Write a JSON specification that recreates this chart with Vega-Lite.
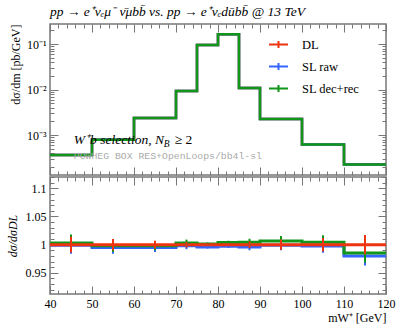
{
  "$schema": "https://vega.github.io/schema/vega-lite/v6.json",
  "background": "white",
  "padding": {"left": 5, "top": 4, "right": 5, "bottom": 5},
  "spacing": -2,
  "config": {
    "view": {"stroke": "#777", "strokeWidth": 1.5},
    "axis": {"domain": false, "grid": false, "tickColor": "#777", "tickWidth": 1, "labelFont": "Liberation Serif", "labelFontSize": 12, "labelColor": "#000", "titleFont": "Liberation Serif", "titleFontWeight": "normal", "titleFontSize": 12, "titleColor": "#000", "labelPadding": 12, "labelFlush": false}
  },
  "datasets": {
    "top": [
      {"s": "DL", "x": 40, "v": 0.000366}, {"s": "DL", "x": 50, "v": 0.00079}, {"s": "DL", "x": 60, "v": 0.00238}, {"s": "DL", "x": 70, "v": 0.0093}, {"s": "DL", "x": 75, "v": 0.096}, {"s": "DL", "x": 80, "v": 0.164}, {"s": "DL", "x": 85, "v": 0.0109}, {"s": "DL", "x": 90, "v": 0.00226}, {"s": "DL", "x": 100, "v": 0.00062}, {"s": "DL", "x": 110, "v": 0.00023}, {"s": "DL", "x": 120, "v": 0.00023},
      {"s": "SL raw", "x": 40, "v": 0.000366}, {"s": "SL raw", "x": 50, "v": 0.00079}, {"s": "SL raw", "x": 60, "v": 0.00238}, {"s": "SL raw", "x": 70, "v": 0.0093}, {"s": "SL raw", "x": 75, "v": 0.096}, {"s": "SL raw", "x": 80, "v": 0.164}, {"s": "SL raw", "x": 85, "v": 0.0109}, {"s": "SL raw", "x": 90, "v": 0.00226}, {"s": "SL raw", "x": 100, "v": 0.00062}, {"s": "SL raw", "x": 110, "v": 0.000226}, {"s": "SL raw", "x": 120, "v": 0.000226},
      {"s": "SL dec+rec", "x": 40, "v": 0.000367}, {"s": "SL dec+rec", "x": 50, "v": 0.00079}, {"s": "SL dec+rec", "x": 60, "v": 0.00238}, {"s": "SL dec+rec", "x": 70, "v": 0.0093}, {"s": "SL dec+rec", "x": 75, "v": 0.096}, {"s": "SL dec+rec", "x": 80, "v": 0.164}, {"s": "SL dec+rec", "x": 85, "v": 0.0109}, {"s": "SL dec+rec", "x": 90, "v": 0.00227}, {"s": "SL dec+rec", "x": 100, "v": 0.00062}, {"s": "SL dec+rec", "x": 110, "v": 0.000227}, {"s": "SL dec+rec", "x": 120, "v": 0.000227}
    ],
    "ratio": [
      {"s": "SL raw", "x": 40, "m": 45, "r": 0.999, "lo": 0.984, "hi": 1.014},
      {"s": "SL raw", "x": 50, "m": 55, "r": 0.995, "lo": 0.984, "hi": 1.006},
      {"s": "SL raw", "x": 60, "m": 65, "r": 0.995, "lo": 0.987, "hi": 1.003},
      {"s": "SL raw", "x": 70, "m": 72.5, "r": 0.998, "lo": 0.992, "hi": 1.004},
      {"s": "SL raw", "x": 75, "m": 77.5, "r": 0.996, "lo": 0.993, "hi": 0.999},
      {"s": "SL raw", "x": 80, "m": 82.5, "r": 0.997, "lo": 0.994, "hi": 1.0},
      {"s": "SL raw", "x": 85, "m": 87.5, "r": 0.996, "lo": 0.99, "hi": 1.002},
      {"s": "SL raw", "x": 90, "m": 95, "r": 0.999, "lo": 0.99, "hi": 1.008},
      {"s": "SL raw", "x": 100, "m": 105, "r": 0.9975, "lo": 0.9855, "hi": 1.0095},
      {"s": "SL raw", "x": 110, "m": 115, "r": 0.98, "lo": 0.963, "hi": 0.997},
      {"s": "SL raw", "x": 120, "r": 0.98},
      {"s": "SL dec+rec", "x": 40, "m": 45, "r": 1.003, "lo": 0.988, "hi": 1.018},
      {"s": "SL dec+rec", "x": 50, "m": 55, "r": 0.998, "lo": 0.987, "hi": 1.009},
      {"s": "SL dec+rec", "x": 60, "m": 65, "r": 0.998, "lo": 0.99, "hi": 1.006},
      {"s": "SL dec+rec", "x": 70, "m": 72.5, "r": 1.003, "lo": 0.997, "hi": 1.009},
      {"s": "SL dec+rec", "x": 75, "m": 77.5, "r": 1.001, "lo": 0.998, "hi": 1.004},
      {"s": "SL dec+rec", "x": 80, "m": 82.5, "r": 1.004, "lo": 1.001, "hi": 1.007},
      {"s": "SL dec+rec", "x": 85, "m": 87.5, "r": 1.0045, "lo": 0.9985, "hi": 1.0105},
      {"s": "SL dec+rec", "x": 90, "m": 95, "r": 1.0065, "lo": 0.9975, "hi": 1.0155},
      {"s": "SL dec+rec", "x": 100, "m": 105, "r": 1.0045, "lo": 0.9925, "hi": 1.0165},
      {"s": "SL dec+rec", "x": 110, "m": 115, "r": 0.985, "lo": 0.968, "hi": 1.002},
      {"s": "SL dec+rec", "x": 120, "r": 0.985},
      {"s": "DL", "x": 40, "m": 45, "r": 1, "lo": 0.986, "hi": 1.014},
      {"s": "DL", "x": 50, "m": 55, "r": 1, "lo": 0.99, "hi": 1.01},
      {"s": "DL", "x": 60, "m": 65, "r": 1, "lo": 0.993, "hi": 1.007},
      {"s": "DL", "x": 70, "m": 72.5, "r": 1, "lo": 0.995, "hi": 1.005},
      {"s": "DL", "x": 75, "m": 77.5, "r": 1, "lo": 0.997, "hi": 1.003},
      {"s": "DL", "x": 80, "m": 82.5, "r": 1, "lo": 0.997, "hi": 1.003},
      {"s": "DL", "x": 85, "m": 87.5, "r": 1, "lo": 0.994, "hi": 1.006},
      {"s": "DL", "x": 90, "m": 95, "r": 1, "lo": 0.991, "hi": 1.009},
      {"s": "DL", "x": 100, "m": 105, "r": 1, "lo": 0.988, "hi": 1.012},
      {"s": "DL", "x": 110, "m": 115, "r": 1, "lo": 0.983, "hi": 1.017},
      {"s": "DL", "x": 120, "r": 1}
    ],
    "notes": [
      {"k": "sel", "t": "W⁺b selection, N", "x": 45.67, "y": 0.00065},
      {"k": "sub", "t": "B", "x": 45.67, "y": 0.00065},
      {"k": "ge", "t": "≥ 2", "x": 45.67, "y": 0.00065},
      {"k": "gen", "t": "POWHEG BOX RES+OpenLoops/bb4l-sl", "x": 45.67, "y": 0.000295}
    ]
  },
  "resolve": {"scale": {"color": "independent"}, "legend": {"color": "independent"}},
  "vconcat": [
    {
      "width": 336,
      "height": 151,
      "title": {"text": "pp → e⁺νₑμ⁻ ν̄μbb̄ vs. pp → e⁺νₑdūbb̄ @ 13 TeV", "anchor": "start", "frame": "group", "font": "Liberation Serif", "fontStyle": "italic", "fontWeight": "normal", "fontSize": 13.5, "color": "#000", "offset": 5},
      "resolve": {"axis": {"x": "independent", "y": "independent"}},
      "layer": [
        {
          "data": {"name": "top"},
          "mark": {"type": "line", "interpolate": "step-after", "strokeWidth": 2.5},
          "encoding": {
            "x": {"field": "x", "type": "quantitative", "scale": {"domain": [40, 120], "nice": false, "zero": false},
              "axis": {"orient": "bottom", "title": null, "minExtent": 0, "maxExtent": 0, "values": [40,42,44,46,48,50,52,54,56,58,60,62,64,66,68,70,72,74,76,78,80,82,84,86,88,90,92,94,96,98,100,102,104,106,108,110,112,114,116,118,120], "labels": false, "tickSize": {"condition": {"test": "datum.value % 10 === 0", "value": -8}, "value": -4}}},
            "y": {"field": "v", "type": "quantitative", "scale": {"type": "log", "domain": [0.000133, 0.277], "nice": false},
              "axis": {"orient": "left", "title": "dσ/dm [pb/GeV]", "titleAnchor": "end", "titlePadding": 4,
                "values": [0.0002,0.0003,0.0004,0.0005,0.0006,0.0007,0.0008,0.0009,0.001,0.002,0.003,0.004,0.005,0.006,0.007,0.008,0.009,0.01,0.02,0.03,0.04,0.05,0.06,0.07,0.08,0.09,0.1,0.2],
                "labelExpr": "datum.value == 0.1 ? '10⁻¹' : datum.value == 0.01 ? '10⁻²' : datum.value == 0.001 ? '10⁻³' : ''",
                "tickSize": {"condition": {"test": "datum.value == 0.1 || datum.value == 0.01 || datum.value == 0.001", "value": -8}, "value": -4}}},
            "color": {"field": "s", "type": "nominal", "sort": ["DL", "SL raw", "SL dec+rec"],
              "scale": {"domain": ["DL", "SL raw", "SL dec+rec"], "range": ["#ee3311", "#3366ff", "#109618"]},
              "legend": {"title": null, "orient": "none", "legendX": 218, "legendY": 10, "labelFont": "Liberation Serif", "labelFontSize": 12.5, "labelColor": "#000", "symbolSize": 361, "symbolStrokeWidth": 2, "symbolType": "M-1,0L1,0M0,-0.37L0,0.37", "rowPadding": 3, "labelOffset": 13}}
          }
        },
        {
          "data": {"name": "notes"},
          "transform": [{"filter": "datum.k == 'sel'"}],
          "mark": {"type": "text", "align": "left", "baseline": "alphabetic", "font": "Liberation Serif", "fontStyle": "italic", "fontSize": 13.5, "color": "#000"},
          "encoding": {
            "x": {"field": "x", "type": "quantitative",
              "axis": {"orient": "top", "title": null, "labels": false, "minExtent": 0, "maxExtent": 0, "values": [40,42,44,46,48,50,52,54,56,58,60,62,64,66,68,70,72,74,76,78,80,82,84,86,88,90,92,94,96,98,100,102,104,106,108,110,112,114,116,118,120], "tickSize": {"condition": {"test": "datum.value % 10 === 0", "value": -8}, "value": -4}}},
            "y": {"field": "y", "type": "quantitative",
              "axis": {"orient": "right", "title": null, "labels": false, "minExtent": 0, "maxExtent": 0, "values": [0.0002,0.0003,0.0004,0.0005,0.0006,0.0007,0.0008,0.0009,0.001,0.002,0.003,0.004,0.005,0.006,0.007,0.008,0.009,0.01,0.02,0.03,0.04,0.05,0.06,0.07,0.08,0.09,0.1,0.2], "tickSize": {"condition": {"test": "datum.value == 0.1 || datum.value == 0.01 || datum.value == 0.001", "value": -8}, "value": -4}}},
            "text": {"field": "t"}
          }
        },
        {
          "data": {"name": "notes"},
          "transform": [{"filter": "datum.k == 'sub'"}],
          "mark": {"type": "text", "align": "left", "baseline": "alphabetic", "font": "Liberation Serif", "fontStyle": "italic", "fontSize": 9.5, "color": "#000", "dx": 90, "dy": 3},
          "encoding": {
            "x": {"field": "x", "type": "quantitative", "axis": null},
            "y": {"field": "y", "type": "quantitative", "axis": null},
            "text": {"field": "t"}
          }
        },
        {
          "data": {"name": "notes"},
          "transform": [{"filter": "datum.k == 'gen'"}],
          "mark": {"type": "text", "align": "left", "baseline": "alphabetic", "font": "Liberation Mono", "fontSize": 9.8, "color": "#aaaaaa"},
          "encoding": {
            "x": {"field": "x", "type": "quantitative", "axis": null},
            "y": {"field": "y", "type": "quantitative", "axis": null},
            "text": {"field": "t"}
          }
        },
        {
          "data": {"name": "notes"},
          "transform": [{"filter": "datum.k == 'ge'"}],
          "mark": {"type": "text", "align": "left", "baseline": "alphabetic", "font": "Liberation Serif", "fontSize": 13.5, "color": "#000", "dx": 101},
          "encoding": {
            "x": {"field": "x", "type": "quantitative", "axis": null},
            "y": {"field": "y", "type": "quantitative", "axis": null},
            "text": {"field": "t"}
          }
        }
      ]
    },
    {
      "width": 336,
      "height": 117,
      "resolve": {"axis": {"x": "independent", "y": "independent"}},
      "layer": [
        {
          "data": {"name": "ratio"},
          "mark": {"type": "line", "interpolate": "step-after", "strokeWidth": 3},
          "encoding": {
            "x": {"field": "x", "type": "quantitative", "scale": {"domain": [40, 120], "nice": false, "zero": false},
              "axis": {"orient": "bottom", "title": "mW⁺ [GeV]", "titleAnchor": "end", "titlePadding": 3, "values": [40,42,44,46,48,50,52,54,56,58,60,62,64,66,68,70,72,74,76,78,80,82,84,86,88,90,92,94,96,98,100,102,104,106,108,110,112,114,116,118,120], "labelExpr": "datum.value % 10 === 0 ? datum.label : ''", "tickSize": {"condition": {"test": "datum.value % 10 === 0", "value": -8}, "value": -4}}},
            "y": {"field": "r", "type": "quantitative", "scale": {"domain": [0.9125, 1.12], "nice": false, "zero": false},
              "axis": {"orient": "left", "title": "dσ/dσDL", "titleFontStyle": "italic", "titlePadding": 6,
                "values": [0.92,0.93,0.94,0.95,0.96,0.97,0.98,0.99,1,1.01,1.02,1.03,1.04,1.05,1.06,1.07,1.08,1.09,1.1,1.11,1.12],
                "labelExpr": "indexof([95,100,105,110], round(datum.value*100)) >= 0 ? format(datum.value, '') : ''",
                "tickSize": {"condition": {"test": "round(datum.value*100) % 5 === 0", "value": -8}, "value": -4}}},
            "color": {"field": "s", "type": "nominal", "scale": {"domain": ["DL", "SL raw", "SL dec+rec"], "range": ["#ee3311", "#3366ff", "#109618"]}, "legend": null}
          }
        },
        {
          "data": {"name": "ratio"},
          "transform": [{"filter": "isValid(datum.m)"}],
          "mark": {"type": "rule", "strokeWidth": 2},
          "encoding": {
            "x": {"field": "m", "type": "quantitative",
              "axis": {"orient": "top", "title": null, "labels": false, "minExtent": 0, "maxExtent": 0, "values": [40,42,44,46,48,50,52,54,56,58,60,62,64,66,68,70,72,74,76,78,80,82,84,86,88,90,92,94,96,98,100,102,104,106,108,110,112,114,116,118,120], "tickSize": {"condition": {"test": "datum.value % 10 === 0", "value": -8}, "value": -4}}},
            "y": {"field": "lo", "type": "quantitative",
              "axis": {"orient": "right", "title": null, "labels": false, "minExtent": 0, "maxExtent": 0, "values": [0.92,0.93,0.94,0.95,0.96,0.97,0.98,0.99,1,1.01,1.02,1.03,1.04,1.05,1.06,1.07,1.08,1.09,1.1,1.11,1.12], "tickSize": {"condition": {"test": "round(datum.value*100) % 5 === 0", "value": -8}, "value": -4}}},
            "y2": {"field": "hi"},
            "color": {"field": "s", "type": "nominal", "legend": null}
          }
        }
      ]
    }
  ]
}
